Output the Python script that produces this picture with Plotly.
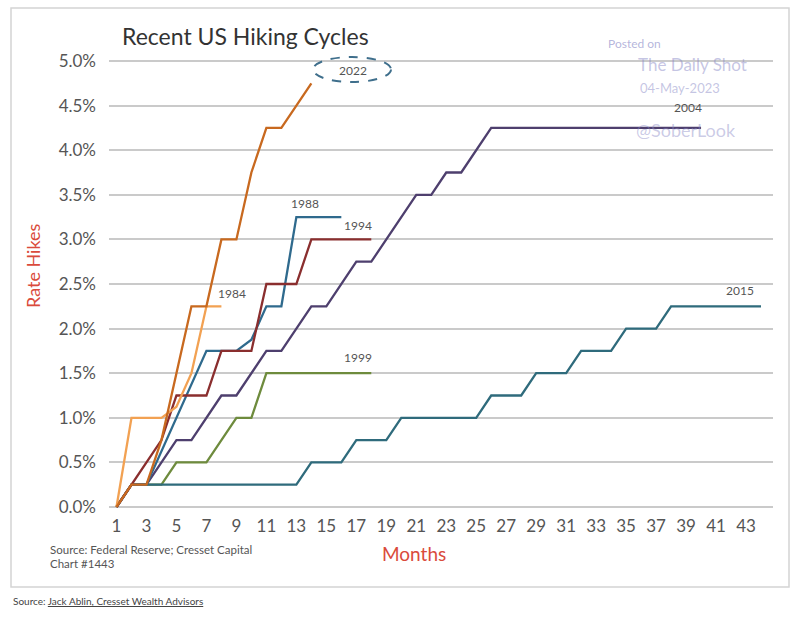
import plotly.graph_objects as go

# ---- data (cumulative rate hikes, % points, by month of cycle) ----
months_2022 = [1, 2, 3, 4, 5, 6, 7, 8, 9, 10, 11, 12, 13, 14]
hikes_2022 = [0, 0.25, 0.25, 0.75, 1.5, 2.25, 2.25, 3.0, 3.0, 3.75, 4.25, 4.25, 4.5, 4.75]

months_1984 = [1, 2, 3, 4, 5, 6, 7, 8]
hikes_1984 = [0, 1.0, 1.0, 1.0, 1.125, 1.5, 2.25, 2.25]

months_1988 = [1, 2, 3, 4, 5, 6, 7, 8, 9, 10, 11, 12, 13, 14, 15, 16]
hikes_1988 = [0, 0.25, 0.25, 0.625, 1.0, 1.375, 1.75, 1.75, 1.75, 1.875, 2.25, 2.25,
              3.25, 3.25, 3.25, 3.25]

months_1994 = [1, 2, 3, 4, 5, 6, 7, 8, 9, 10, 11, 12, 13, 14, 15, 16, 17, 18]
hikes_1994 = [0, 0.25, 0.5, 0.75, 1.25, 1.25, 1.25, 1.75, 1.75, 1.75, 2.5, 2.5, 2.5,
              3.0, 3.0, 3.0, 3.0, 3.0]

months_1999 = [1, 2, 3, 4, 5, 6, 7, 8, 9, 10, 11, 12, 13, 14, 15, 16, 17, 18]
hikes_1999 = [0, 0.25, 0.25, 0.25, 0.5, 0.5, 0.5, 0.75, 1.0, 1.0, 1.5, 1.5, 1.5,
              1.5, 1.5, 1.5, 1.5, 1.5]

months_2004 = [1, 2, 3, 4, 5, 6, 7, 8, 9, 10, 11, 12, 13, 14, 15, 16, 17, 18, 19, 20,
               21, 22, 23, 24, 25, 26, 27, 28, 29, 30, 31, 32, 33, 34, 35, 36, 37, 38,
               39, 40]
hikes_2004 = [0, 0.25, 0.25, 0.5, 0.75, 0.75, 1.0, 1.25, 1.25, 1.5, 1.75, 1.75, 2.0,
              2.25, 2.25, 2.5, 2.75, 2.75, 3.0, 3.25, 3.5, 3.5, 3.75, 3.75, 4.0, 4.25,
              4.25, 4.25, 4.25, 4.25, 4.25, 4.25, 4.25, 4.25, 4.25, 4.25, 4.25, 4.25,
              4.25, 4.25]

months_2015 = [1, 2, 3, 4, 5, 6, 7, 8, 9, 10, 11, 12, 13, 14, 15, 16, 17, 18, 19, 20,
               21, 22, 23, 24, 25, 26, 27, 28, 29, 30, 31, 32, 33, 34, 35, 36, 37, 38,
               39, 40, 41, 42, 43, 44]
hikes_2015 = [0, 0.25, 0.25, 0.25, 0.25, 0.25, 0.25, 0.25, 0.25, 0.25, 0.25, 0.25, 0.25,
              0.5, 0.5, 0.5, 0.75, 0.75, 0.75, 1.0, 1.0, 1.0, 1.0, 1.0, 1.0, 1.25, 1.25,
              1.25, 1.5, 1.5, 1.5, 1.75, 1.75, 1.75, 2.0, 2.0, 2.0, 2.25, 2.25, 2.25,
              2.25, 2.25, 2.25, 2.25]

y_ticks = [0, 0.5, 1.0, 1.5, 2.0, 2.5, 3.0, 3.5, 4.0, 4.5, 5.0]
y_tick_labels = ["0.0%", "0.5%", "1.0%", "1.5%", "2.0%", "2.5%", "3.0%", "3.5%",
                 "4.0%", "4.5%", "5.0%"]
x_ticks = [1, 3, 5, 7, 9, 11, 13, 15, 17, 19, 21, 23, 25, 27, 29, 31, 33, 35, 37, 39, 41, 43]

# drawing order (bottom -> top)
series = [
    ("1999", months_1999, hikes_1999, "#6E8B3D"),
    ("2015", months_2015, hikes_2015, "#2F6B7C"),
    ("2004", months_2004, hikes_2004, "#4E3F6E"),
    ("1988", months_1988, hikes_1988, "#2F6A8D"),
    ("1994", months_1994, hikes_1994, "#8A2E2E"),
    ("1984", months_1984, hikes_1984, "#F2A152"),
    ("2022", months_2022, hikes_2022, "#C8691F"),
]

FONT = "Lato"
GREY = "#555555"

fig = go.Figure()
for name, xs, ys, col in series:
    fig.add_trace(go.Scatter(x=xs, y=ys, mode="lines", name=name,
                             line=dict(color=col, width=2.3),
                             showlegend=False, hoverinfo="x+y+name"))

# series labels (placed near each series' end)
label_specs = {
    "1984": (8.7, hikes_1984[-1], 13),
    "1988": (13.6, hikes_1988[-1], 14),
    "1994": (17.1, hikes_1994[-1], 14),
    "1999": (17.1, hikes_1999[-1], 16),
    "2004": (39.1, hikes_2004[-1], 20),
    "2015": (42.6, hikes_2015[-1], 16),
}
annotations = []
for name, (lx, ly, ys_) in label_specs.items():
    annotations.append(dict(x=lx, y=ly, xref="x", yref="y", text=name, showarrow=False,
                            xanchor="center", yanchor="middle", yshift=ys_,
                            font=dict(family=FONT, size=12, color=GREY)))


def px2paper_x(px):
    return (px - 109) / 664.0


def px2paper_y(py):
    return (510 - py) / 452.0


def note(px, py, text, size, color, xanchor="center", angle=0):
    return dict(x=px2paper_x(px), y=px2paper_y(py), xref="paper", yref="paper",
                xanchor=xanchor, yanchor="middle", text=text, showarrow=False,
                textangle=angle, font=dict(family=FONT, size=size, color=color))


annotations += [
    note(353, 70, "2022", 12, GREY),
    note(120, 36, "Recent US Hiking Cycles", 23, "#333333", xanchor="left"),
    note(33, 266, "Rate Hikes", 18, "#DA4B3C", angle=-90),
    note(414, 553, "Months", 19, "#DA4B3C"),
    note(48, 549, "Source: Federal Reserve; Cresset Capital", 11.5, GREY, xanchor="left"),
    note(48, 563, "Chart #1443", 11.5, GREY, xanchor="left"),
    note(11, 601, "Source: <span style='text-decoration:underline'>Jack Ablin, "
                  "Cresset Wealth Advisors</span>", 10, "#444444", xanchor="left"),
    # watermark
    note(634, 43, "Posted on", 12, "rgba(140,140,200,0.65)"),
    note(692, 65, "The Daily Shot", 17, "rgba(140,140,200,0.5)"),
    note(680, 88, "04-May-2023", 13, "rgba(140,140,200,0.5)"),
    note(686, 130, "@SoberLook", 18, "rgba(140,140,200,0.45)"),
]

shapes = [
    # dashed ellipse round the 2022 label
    dict(type="circle", xref="paper", yref="paper",
         x0=px2paper_x(313), x1=px2paper_x(391), y0=px2paper_y(82), y1=px2paper_y(57),
         line=dict(color="#3F6F8C", width=2, dash="dash")),
    # outer frame
    dict(type="rect", xref="paper", yref="paper", layer="below",
         x0=px2paper_x(11), x1=px2paper_x(789), y0=px2paper_y(587), y1=px2paper_y(8),
         line=dict(color="#D4D4D4", width=1.5)),
]

fig.update_layout(
    width=800, height=620,
    margin=dict(l=109, r=27, t=58, b=110),
    paper_bgcolor="white", plot_bgcolor="white",
    font=dict(family=FONT, color=GREY),
    annotations=annotations, shapes=shapes,
    xaxis=dict(range=[0.5, 44.8], tickmode="array", tickvals=x_ticks,
               showgrid=False, zeroline=False, showline=False, ticks="",
               ticklabelstandoff=4,
               tickfont=dict(family=FONT, size=17, color=GREY)),
    yaxis=dict(range=[-0.0336, 5.0336], tickmode="array", tickvals=y_ticks,
               ticktext=y_tick_labels,
               showgrid=True, gridcolor="#CACACA", gridwidth=1.6,
               zeroline=False, showline=False, ticks="",
               ticklabelstandoff=12,
               tickfont=dict(family=FONT, size=17, color=GREY)),
)

fig.write_html("out.html")
